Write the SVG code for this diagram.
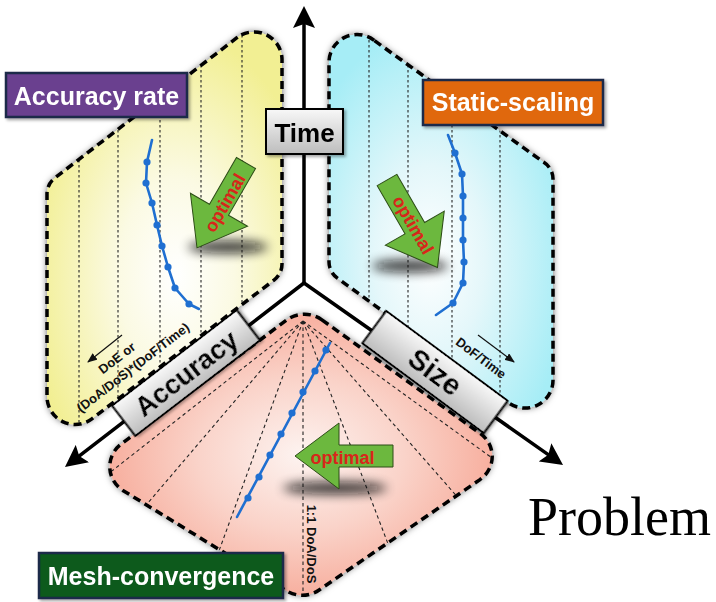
<svg xmlns="http://www.w3.org/2000/svg" width="716" height="602" viewBox="0 0 716 602">
<defs>
<style>
.border{fill:none;stroke:#000;stroke-width:3.5;stroke-dasharray:8 5}
.vdot{stroke:#222;stroke-width:1.1;stroke-dasharray:2.5 2.5;fill:none}
.fan{stroke:#222;stroke-width:1.1;stroke-dasharray:3.5 3;fill:none}
.axis{stroke:#000;stroke-width:3.5;fill:none;stroke-linecap:round}
.curve{fill:none;stroke:#1f6fd1;stroke-width:2.6;stroke-linejoin:round;stroke-linecap:round}
.dot{fill:#1f6fd1}
.garrow{fill:#6cb83e;stroke:#2d4d17;stroke-width:1}
.opt{font-family:"Liberation Sans",Arial,sans-serif;font-weight:bold;font-size:18px;fill:#d8261a}
.tag{font-family:"Liberation Sans",Arial,sans-serif;font-weight:bold;font-size:25px;fill:#fff}
.tagbox{stroke:#1b2a48;stroke-width:2.5}
.axbox{fill:url(#gray);stroke:#000;stroke-width:2}
.axlbl{font-family:"Liberation Sans",Arial,sans-serif;font-weight:bold;font-size:27px;fill:#000}
.note{font-family:"Liberation Sans",Arial,sans-serif;font-weight:bold;font-size:13px;fill:#111}
.thin{stroke:#111;stroke-width:1.2;fill:none}
.shadow{fill:#111;opacity:0.85}
</style>
<linearGradient id="gray" x1="0" y1="0" x2="0" y2="1">
<stop offset="0" stop-color="#f8f8f8"/><stop offset="1" stop-color="#bdbdbd"/>
</linearGradient>
<radialGradient id="gy" cx="0.55" cy="0.62" r="0.62">
<stop offset="0" stop-color="#ffffff"/><stop offset="0.4" stop-color="#fbfae3"/><stop offset="1" stop-color="#f2ef93"/>
</radialGradient>
<radialGradient id="gc" cx="0.45" cy="0.6" r="0.62">
<stop offset="0" stop-color="#ffffff"/><stop offset="0.4" stop-color="#e4f7fa"/><stop offset="1" stop-color="#a6edf6"/>
</radialGradient>
<radialGradient id="gp" cx="0.5" cy="0.5" r="0.6">
<stop offset="0" stop-color="#fdf3f0"/><stop offset="0.45" stop-color="#fad3c9"/><stop offset="1" stop-color="#f6a08d"/>
</radialGradient>
<filter id="pshadow" x="-10%" y="-10%" width="120%" height="120%">
<feDropShadow dx="0" dy="0" stdDeviation="3.5" flood-color="#000" flood-opacity="0.6"/>
</filter>
<filter id="bshadow" x="-10%" y="-20%" width="130%" height="150%">
<feDropShadow dx="2" dy="2" stdDeviation="1.5" flood-color="#000" flood-opacity="0.35"/>
</filter>
<filter id="blur" x="-50%" y="-200%" width="200%" height="500%">
<feGaussianBlur stdDeviation="5.5"/>
</filter>
<marker id="axhead" markerUnits="userSpaceOnUse" markerWidth="22" markerHeight="24" viewBox="0 0 22 24" refX="10" refY="12" orient="auto">
<path d="M0,1 L22,12 L0,23 L4,12 Z" fill="#000"/>
</marker>
<marker id="smallhead" markerUnits="userSpaceOnUse" markerWidth="10" markerHeight="8" viewBox="0 0 10 8" refX="9" refY="4" orient="auto">
<path d="M0,0 L10,4 L0,8 Z" fill="#111"/>
</marker>
<path id="yshape" d="M237.6,37.2 L54.9,177.9 A20,20 0 0 0 47,194 L47,397 A28,28 0 0 0 91.5,419.1 L274,280.1 A20,20 0 0 0 282,264 L282,59 A28,28 0 0 0 237.6,37.2 Z"/>
<path id="cshape" d="M374.5,40.7 L542.9,161.7 A20,20 0 0 1 553,179 L553,379 A28,28 0 0 1 507.7,402.1 L337.1,277.9 A20,20 0 0 1 329,262 L329,64 A28,28 0 0 1 374.5,40.7 Z"/>
<path id="pshape" d="M321.9,319.8 L480.5,433.7 A28,28 0 0 1 480,479.6 L319.1,590 A30,30 0 0 1 286.4,590.8 L122.9,490.4 A28,28 0 0 1 120.8,444.4 L286.4,320.2 A30,30 0 0 1 321.9,319.8 Z"/>
<clipPath id="yclip"><use href="#yshape"/></clipPath>
<clipPath id="cclip"><use href="#cshape"/></clipPath>
<clipPath id="pclip"><use href="#pshape"/></clipPath>
<path id="garrow" d="M0,-11 L54,-11 L54,-33 L98,0 L54,33 L54,11 L0,11 Z"/>
</defs>

<rect width="716" height="602" fill="#fff"/>

<g id="panel-accuracy-rate">
<use href="#yshape" fill="url(#gy)" filter="url(#pshadow)"/>
<g clip-path="url(#yclip)">
<path class="vdot" d="M79,0V460 M118,0V460 M160,0V460 M201,0V460 M242,0V460"/>
</g>
<ellipse class="shadow" cx="228" cy="247" rx="40" ry="6" filter="url(#blur)"/>
<polyline class="curve" points="152,140 147,162 146,183 152,203 157,225 162,246 168,267 175,288 189,304 199,309"/>
<g class="dot">
<circle cx="147" cy="162" r="3.6"/><circle cx="146" cy="183" r="3.6"/><circle cx="152" cy="203" r="3.6"/><circle cx="157" cy="225" r="3.6"/><circle cx="162" cy="246" r="3.6"/><circle cx="168" cy="267" r="3.6"/><circle cx="175" cy="288" r="3.6"/><circle cx="189" cy="304" r="3.6"/>
</g>
<use href="#garrow" class="garrow" transform="translate(246,163) rotate(120)"/>
<text class="opt" transform="translate(225,203) rotate(-60)" x="0" y="6" text-anchor="middle">optimal</text>
<line class="thin" x1="122" y1="335" x2="88" y2="362" marker-end="url(#smallhead)"/>
<text class="note" transform="translate(117,358) rotate(-37.5)" x="0" y="4.5" text-anchor="middle">DoE or</text>
<text class="note" transform="translate(133,367.5) rotate(-37.5)" x="0" y="4.5" text-anchor="middle">(DoA/DoS)*(DoF/Time)</text>
<use href="#yshape" class="border"/>
</g>

<g id="panel-static-scaling">
<use href="#cshape" fill="url(#gc)" filter="url(#pshadow)"/>
<g clip-path="url(#cclip)">
<path class="vdot" d="M369,0V460 M408,0V460 M452,0V460 M500,0V460"/>
</g>
<ellipse class="shadow" cx="410" cy="266" rx="38" ry="6" filter="url(#blur)"/>
<polyline class="curve" points="448,135 455,153 462,174 463,196 463,218 463,240 464,262 463,283 453,303 436,315"/>
<g class="dot">
<circle cx="455" cy="153" r="3.6"/><circle cx="462" cy="174" r="3.6"/><circle cx="463" cy="196" r="3.6"/><circle cx="463" cy="218" r="3.6"/><circle cx="463" cy="240" r="3.6"/><circle cx="464" cy="262" r="3.6"/><circle cx="463" cy="283" r="3.6"/><circle cx="453" cy="303" r="3.6"/>
</g>
<use href="#garrow" class="garrow" transform="translate(387,180) rotate(60) scale(1.03)"/>
<text class="opt" transform="translate(413,225) rotate(60)" x="0" y="6" text-anchor="middle">optimal</text>
<line class="thin" x1="478" y1="335" x2="514" y2="362" marker-end="url(#smallhead)"/>
<text class="note" transform="translate(481,358) rotate(37)" x="0" y="4.5" text-anchor="middle">DoF/Time</text>
<use href="#cshape" class="border"/>
</g>

<g id="panel-mesh-convergence">
<use href="#pshape" fill="url(#gp)" filter="url(#pshadow)"/>
<g clip-path="url(#pclip)">
<path class="fan" d="M303,321 L94,485 M303,321 L130,524 M303,321 L212,570 M303,321 L303,610 M303,321 L398,570 M303,321 L475,517 M303,321 L510,471"/>
</g>
<ellipse class="shadow" cx="335" cy="488" rx="52" ry="6" filter="url(#blur)"/>
<line class="curve" x1="330" y1="343" x2="237" y2="517"/>
<g class="dot">
<circle cx="326" cy="350" r="3.6"/><circle cx="315" cy="371" r="3.6"/><circle cx="303" cy="392" r="3.6"/><circle cx="292" cy="413" r="3.6"/><circle cx="281" cy="434" r="3.6"/><circle cx="270" cy="455" r="3.6"/><circle cx="259" cy="477" r="3.6"/><circle cx="248" cy="498" r="3.6"/>
</g>
<use href="#garrow" class="garrow" transform="translate(393,456) rotate(180)"/>
<text class="opt" x="342.5" y="464" text-anchor="middle">optimal</text>
<text class="note" transform="translate(307,544) rotate(90)" x="0" y="0" text-anchor="middle">1:1 DoA/DoS</text>
<use href="#pshape" class="border"/>
</g>

<g id="connectors">
<line class="axis" x1="304" y1="283" x2="304" y2="18" marker-end="url(#axhead)"/>
<line class="axis" x1="304" y1="283" x2="74.5" y2="459.7" marker-end="url(#axhead)"/>
<line class="axis" x1="304" y1="283" x2="553.2" y2="458.1" marker-end="url(#axhead)"/>
</g>

<g id="axis-time" filter="url(#bshadow)">
<rect class="axbox" x="266" y="109" width="77" height="45"/>
<text class="axlbl" x="304.5" y="141.5" text-anchor="middle" style="font-size:26px">Time</text>
</g>
<g id="axis-accuracy" filter="url(#bshadow)" transform="translate(186,373) rotate(-37.5)">
<rect class="axbox" x="-78.5" y="-19" width="157" height="38"/>
<text class="axlbl" x="0" y="10" text-anchor="middle">Accuracy</text>
</g>
<g id="axis-size" filter="url(#bshadow)" transform="translate(435,372) rotate(36.5)">
<rect class="axbox" x="-75.5" y="-20" width="151" height="40"/>
<text class="axlbl" x="0" y="10" text-anchor="middle" style="font-size:29px">Size</text>
</g>

<g id="label-accuracy-rate" filter="url(#bshadow)">
<rect class="tagbox" x="6" y="73" width="181" height="44" fill="#6b3f8f"/>
<text class="tag" x="96.5" y="104.5" text-anchor="middle">Accuracy rate</text>
</g>
<g id="label-static-scaling" filter="url(#bshadow)">
<rect class="tagbox" x="423" y="80" width="180" height="45" fill="#e0680e"/>
<text class="tag" x="513" y="111" text-anchor="middle">Static-scaling</text>
</g>
<g id="label-mesh-convergence" filter="url(#bshadow)">
<rect class="tagbox" x="39" y="553" width="244" height="45" fill="#0d5a1e"/>
<text class="tag" x="161" y="585" text-anchor="middle">Mesh-convergence</text>
</g>

<text id="problem" x="528" y="535" style="font-family:'Liberation Serif','Times New Roman',serif;font-size:54px;fill:#000">Problem</text>
</svg>
